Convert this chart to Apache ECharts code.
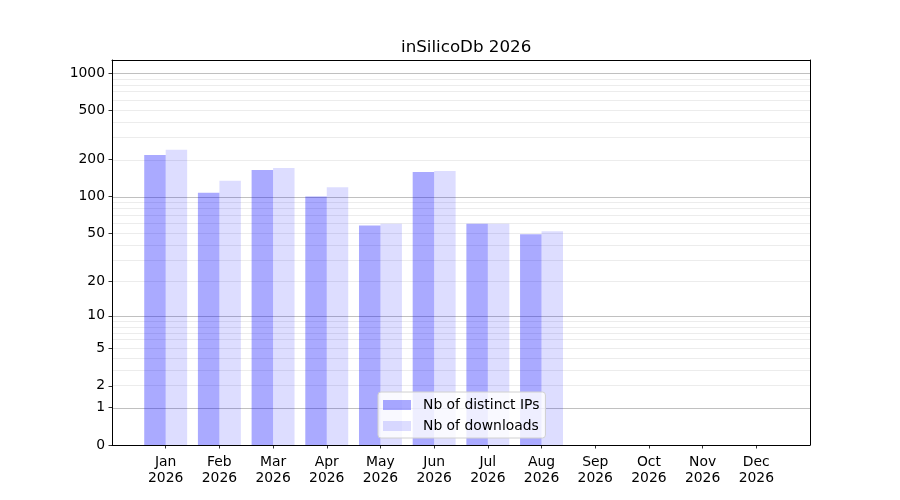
<!DOCTYPE html>
<html>
<head>
<meta charset="utf-8">
<script src="https://cdn.jsdelivr.net/npm/echarts@6/dist/echarts.min.js"></script>
<style>
  html, body { margin: 0; padding: 0; background: #fff; }
  #chart { width: 900px; height: 500px; }
</style>
</head>
<body>
<div id="chart"></div>
<script>
// data
const months = ['Jan', 'Feb', 'Mar', 'Apr', 'May', 'Jun', 'Jul', 'Aug', 'Sep', 'Oct', 'Nov', 'Dec'];
const year = '2026';
const distinctIPs = [217, 107, 164, 100, 58, 158, 60, 49, 0, 0, 0, 0];
const downloads = [239, 134, 170, 119, 60, 161, 60, 52, 0, 0, 0, 0];
const yTicks = [0, 1, 2, 5, 10, 20, 50, 100, 200, 500, 1000];
const majorGrid = [1, 10, 100, 1000];
const minorGrid = [2, 3, 4, 5, 6, 7, 8, 9, 20, 30, 40, 50, 60, 70, 80, 90, 200, 300, 400, 500, 600, 700, 800, 900];

// y scale is log10(1 + v)
function t(v) { return Math.log10(1 + v); }

// pad one empty slot at each end so the axis runs from -1 to 12
const categories = [''].concat(months.map(function (m) { return m + '\n' + year; })).concat(['']);
function pad(arr) { return [null].concat(arr.map(t)).concat([null]); }

const font = 'DejaVu Sans';
const yMax = 3.105;
let myChart = echarts.init(document.getElementById('chart'));

function gridLines(list, color) {
    return list.map(function (v) {
        return { yAxis: t(v), lineStyle: { color: color, width: 1, type: 'solid' } };
    });
}

const spine = { show: true, onZero: false, lineStyle: { color: '#000', width: 1 } };

let option = {
    animation: false,
    title: {
        text: 'inSilicoDb 2026',
        left: 396,
        top: 34,
        textStyle: { fontFamily: font, fontSize: 16.7, fontWeight: 'normal', color: '#000' }
    },
    grid: { left: 112, right: 90, top: 60, bottom: 55 },
    legend: {
        orient: 'vertical',
        left: 378,
        bottom: 62,
        icon: 'rect',
        itemWidth: 28,
        itemHeight: 10,
        itemGap: 5,
        padding: [5, 6, 4, 5],
        backgroundColor: 'rgba(255,255,255,0.8)',
        borderColor: '#d0d0d0',
        borderWidth: 1,
        borderRadius: 3,
        z: 10,
        textStyle: { fontFamily: font, fontSize: 13.9, color: '#000', lineHeight: 16, padding: [0, 0, 0, 7] },
        data: ['Nb of distinct IPs', 'Nb of downloads']
    },
    xAxis: [
        {
            type: 'category',
            data: categories,
            boundaryGap: false,
            z: 5,
            axisLine: spine,
            axisTick: {
                length: 3.5,
                lineStyle: { color: '#000', width: 0.8 },
                interval: function (i, v) { return v !== ''; }
            },
            axisLabel: {
                interval: function (i, v) { return v !== ''; },
                fontFamily: font, fontSize: 13.9, color: '#000', margin: 9, lineHeight: 16
            },
            splitLine: { show: false }
        },
        {
            type: 'category',
            data: categories,
            boundaryGap: false,
            position: 'top',
            z: 5,
            axisLine: spine,
            axisTick: { show: false },
            axisLabel: { show: false },
            splitLine: { show: false }
        }
    ],
    yAxis: [
        {
            type: 'value',
            min: 0,
            max: yMax,
            z: 5,
            axisLine: spine,
            axisTick: {
                show: true, length: 3.5,
                lineStyle: { color: '#000', width: 0.8 },
                customValues: yTicks.map(t)
            },
            axisLabel: {
                fontFamily: font, fontSize: 13.9, color: '#000', margin: 7,
                customValues: yTicks.map(t),
                formatter: function (v) { return String(Math.round(Math.pow(10, v) - 1)); }
            },
            splitLine: { show: false }
        },
        {
            type: 'value',
            min: 0,
            max: yMax,
            position: 'right',
            z: 5,
            axisLine: spine,
            axisTick: { show: false },
            axisLabel: { show: false },
            splitLine: { show: false }
        }
    ],
    series: [
        {
            name: 'Nb of distinct IPs',
            type: 'bar',
            data: pad(distinctIPs),
            barGap: '0%',
            barCategoryGap: '20%',
            itemStyle: { color: 'rgba(0,0,255,0.333)' },
            z: 3,
            markLine: {
                silent: true,
                symbol: 'none',
                label: { show: false },
                z: 1,
                animation: false,
                data: gridLines(minorGrid, '#ececec').concat(gridLines(majorGrid, '#c0c0c0'))
            }
        },
        {
            name: 'Nb of downloads',
            type: 'bar',
            data: pad(downloads),
            barGap: '0%',
            barCategoryGap: '20%',
            itemStyle: { color: 'rgba(0,0,255,0.133)' },
            z: 3
        }
    ]
};
myChart.setOption(option);
</script>
</body>
</html>
